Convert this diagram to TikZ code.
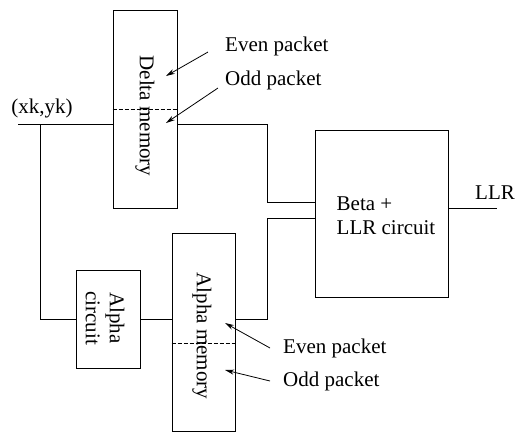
\documentclass[tikz,border=0pt]{standalone}
\usepackage{fontspec}
\setmainfont{Liberation Serif}
\usetikzlibrary{arrows.meta,calc}

\begin{document}
\begin{tikzpicture}[x=1pt,y=-1pt,
  font=\fontsize{21}{24}\selectfont,
  block/.style={draw, line width=0.9pt, inner sep=0pt},
  wire/.style={line width=0.9pt},
  split/.style={line width=0.8pt, dash pattern=on 4pt off 2pt},
  pointer/.style={line width=0.8pt, -{Stealth[length=9pt,width=5pt]}},
  tag/.style={anchor=west, inner sep=2pt}]
  \useasboundingbox (0,0) rectangle (520,432);

  % memories and circuits
  \node[block, minimum width=64pt, minimum height=198pt] (delta) at (145,109) {};
  \node[block, minimum width=133pt, minimum height=167pt] (beta) at (381.5,213.5) {};
  \node[block, minimum width=64pt, minimum height=98pt] (alphac) at (108,319) {};
  \node[block, minimum width=63pt, minimum height=198pt] (alpham) at (203.5,332) {};

  \node[rotate=-90] (deltatext) at (145,116) {Delta memory};
  \node[rotate=-90] (alphamtext) at (202,336) {Alpha memory};
  \node[rotate=-90, align=center] (alphactext) at (105,318) {Alpha\\circuit};
  \node[align=left] (betatext) at (386,216) {Beta +\\LLR circuit};

  \draw[split] (delta.west) -- (delta.east);
  \draw[split] ([yshift=-11pt]alpham.west) -- ([yshift=-11pt]alpham.east);

  % wiring
  \coordinate (in) at (18,124);
  \coordinate (tap) at (40,124);
  \coordinate (jtop) at (267,202);
  \coordinate (jbot) at (267,218);
  \coordinate (out) at (497,208);

  \node (xy) at (42,108) {(xk,yk)};
  \node (llr) at (495,193) {LLR};

  \draw[wire] (in) -- (in -| delta.west);
  \draw[wire] (tap) |- (alphac.west);
  \draw[wire] (alphac.east) -- (alphac.east -| alpham.west);
  \draw[wire] (in -| delta.east) -| (jtop) -- (jtop -| beta.west);
  \draw[wire] (alphac.east -| alpham.east) -| (jbot) -- (jbot -| beta.west);
  \draw[wire] (out -| beta.east) -- (out);

  % packet labels
  \node[tag] (evendelta) at (223,46) {Even packet};
  \node[tag] (odddelta) at (223,80) {Odd packet};
  \node[tag] (evenalpha) at (281,348) {Even packet};
  \node[tag] (oddalpha) at (281,381) {Odd packet};

  \coordinate (evendeltatip) at (166,76);
  \coordinate (odddeltatip) at (166,123);
  \coordinate (evenalphatip) at (225,323);
  \coordinate (oddalphatip) at (225,370);

  \draw[pointer] ([shift={(-15,6)}]evendelta.west) -- (evendeltatip);
  \draw[pointer] ([shift={(-5,8)}]odddelta.west) -- (odddeltatip);
  \draw[pointer] ([xshift=-11pt]evenalpha.west) -- (evenalphatip);
  \draw[pointer] ([xshift=-11pt]oddalpha.west) -- (oddalphatip);
\end{tikzpicture}
\end{document}
